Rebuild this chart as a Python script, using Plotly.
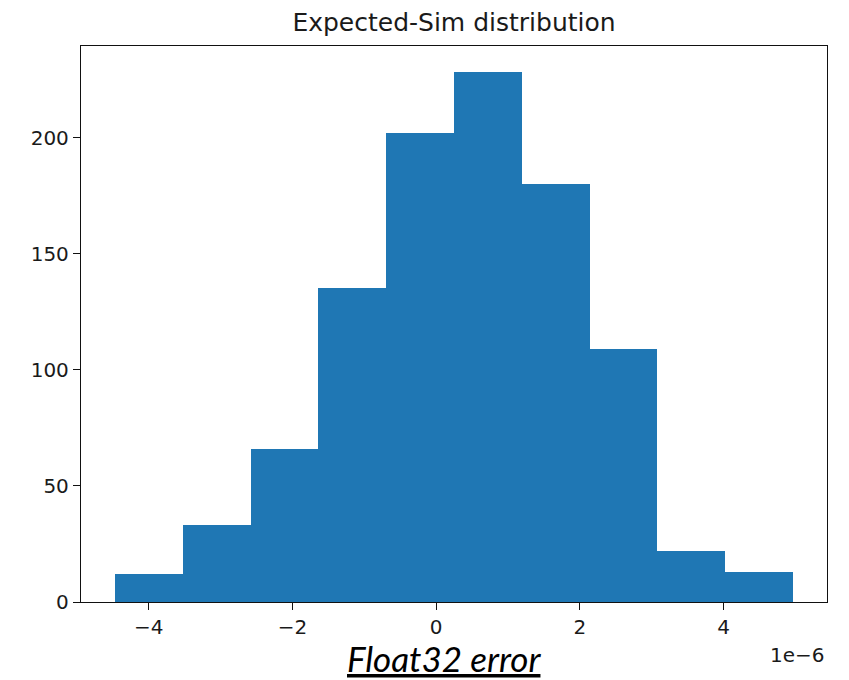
import numpy as np
import plotly.graph_objects as go

# Histogram of the Expected - Sim differences (float32 rounding error)
bin_edges = [-4.470e-6, -3.526e-6, -2.583e-6, -1.639e-6, -0.696e-6, 0.248e-6,
             1.192e-6, 2.135e-6, 3.079e-6, 4.022e-6, 4.966e-6]
counts = [12, 33, 66, 135, 202, 228, 180, 109, 22, 13]

x_tickvals = [-4e-6, -2e-6, 0.0, 2e-6, 4e-6]
x_ticktext = ["\u22124", "\u22122", "0", "2", "4"]
y_tickvals = [0, 50, 100, 150, 200]

edges = np.array(bin_edges)
centers = (edges[:-1] + edges[1:]) / 2
widths = np.diff(edges)

fig = go.Figure()
fig.add_trace(go.Bar(
    x=centers,
    y=counts,
    width=widths,
    marker=dict(color="#1f77b4", line=dict(width=0)),
    showlegend=False,
))

# matplotlib-style 5% data margins
span = edges[-1] - edges[0]
x_range = [edges[0] - 0.05 * span, edges[-1] + 0.05 * span]
y_range = [0, max(counts) * 1.05]

tick_font = dict(family="DejaVu Sans", size=20, color="#1a1a1a")
axis_common = dict(
    showline=True, mirror=True, linecolor="#111", linewidth=1.3,
    ticks="outside", ticklen=7, tickwidth=1.3, tickcolor="#111",
    showgrid=False, zeroline=False, tickfont=tick_font,
)

fig.update_layout(
    width=849, height=680,
    margin=dict(l=81, r=22, t=46, b=78),
    paper_bgcolor="white", plot_bgcolor="white",
    bargap=0,
    title=dict(
        text="Expected-Sim distribution",
        x=0.5, xref="paper", xanchor="center",
        y=1 - 22 / 680, yref="container", yanchor="middle",
        font=dict(family="DejaVu Sans", size=25, color="#1a1a1a"),
    ),
    xaxis=dict(range=x_range, tickvals=x_tickvals, ticktext=x_ticktext, **axis_common),
    yaxis=dict(range=y_range, tickvals=y_tickvals, **axis_common),
)

# offset (scale) label at the right end of the x axis
fig.add_annotation(
    text="1e\u22126", xref="paper", yref="paper",
    x=1.0, y=-0.0947, xanchor="right", yanchor="middle",
    showarrow=False, font=tick_font,
)

# caption under the axis
fig.add_annotation(
    text="<i>Float32 error</i>", xref="paper", yref="paper",
    x=0.487, y=-0.1396, xanchor="center", yanchor="bottom",
    showarrow=False, borderpad=0,
    font=dict(family="Lato", size=35, color="#000", lineposition="under"),
)

fig.write_html("out.html")
